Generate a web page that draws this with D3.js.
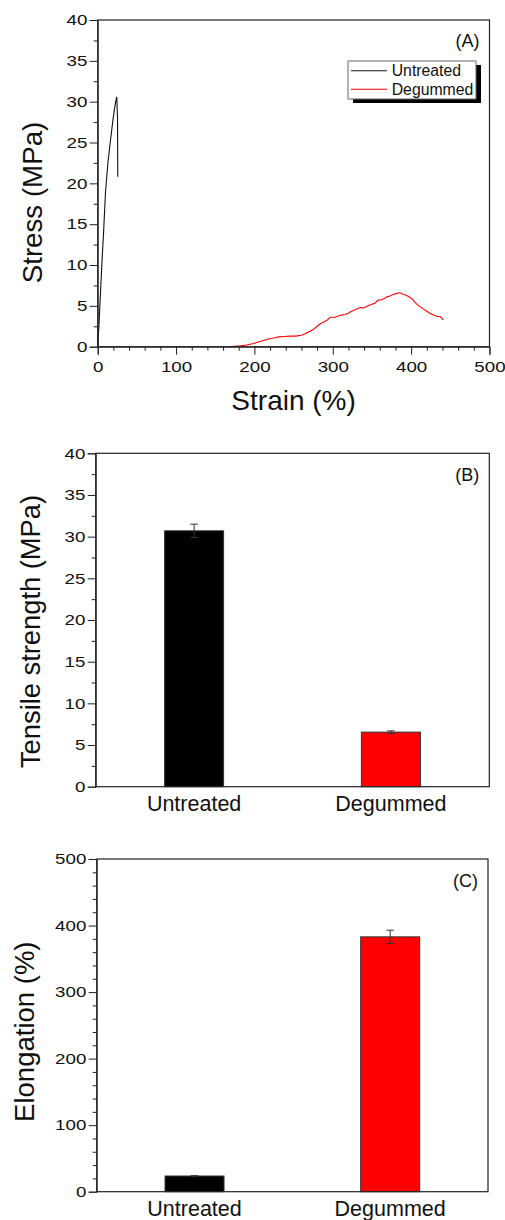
<!DOCTYPE html>
<html>
<head>
<meta charset="utf-8">
<script src="https://cdn.jsdelivr.net/npm/d3@7"></script>
<style>
  body { margin: 0; background: #fff; }
  svg { display: block; font-family: "Liberation Sans", Arial, sans-serif; }
  .domain { stroke: #222; }
  .tick line { stroke: #222; }
</style>
</head>
<body>
<div id="chart"></div>
<script>
// Panel A: stress-strain curves
var untreatedStrain = [0, 0.6, 1.5, 2.5, 4, 5.5, 7.5, 10, 13, 16, 19.5, 22.5, 24.3, 25.3, 25.6];
var untreatedStress = [0, 1.2, 2.3, 4.5, 7.5, 10.5, 14, 19, 22.5, 25, 27.8, 29.8, 30.6, 28, 20.8];

var degummedStrain = [167, 175, 182, 190, 199, 209, 215, 220, 226, 231,
  238, 246, 253, 260, 264, 267, 271, 275, 280, 284,
  288, 292, 297, 300, 303, 307, 312, 316, 320, 323,
  326, 330, 335, 338, 341, 345, 350, 354, 358, 362,
  366, 369, 373, 377, 381, 384, 387, 390, 394, 399,
  402, 405, 410, 416, 420, 424, 428, 431, 434, 437,
  439, 441];
var degummedStress = [0, 0.05, 0.1, 0.2, 0.4, 0.7, 0.85, 1.0, 1.1, 1.2,
  1.25, 1.3, 1.3, 1.4, 1.55, 1.7, 1.9, 2.1, 2.5, 2.8,
  3.0, 3.2, 3.6, 3.6, 3.6, 3.75, 3.9, 3.95, 4.1, 4.3,
  4.4, 4.6, 4.8, 4.75, 4.8, 5.0, 5.2, 5.35, 5.7, 5.75,
  5.9, 6.1, 6.2, 6.4, 6.5, 6.6, 6.55, 6.4, 6.3, 6.0,
  5.8, 5.4, 5.0, 4.6, 4.35, 4.1, 3.9, 3.8, 3.7, 3.7,
  3.5, 3.3];

// Panels B and C: bar charts
var samples = ["Untreated", "Degummed"];
var barColors = ["#000000", "#ff0000"];
var tensileMean = [30.7, 6.55];
var tensileErr = [0.8, 0.15];
var elongMean = [23.6, 383];
var elongErr = [0.5, 10];

var stressTicks = [0, 5, 10, 15, 20, 25, 30, 35, 40];
var strainTicks = [0, 100, 200, 300, 400, 500];
var elongTicks = [0, 100, 200, 300, 400, 500];

var svg = d3.select("#chart").append("svg")
    .attr("width", 505)
    .attr("height", 1220);

// draws y axis with major + minor ticks, stretched tick labels like the original
function yAxis(g, y, ticks, minor) {
    g.append("g")
        .call(d3.axisLeft(y).tickValues(minor).tickSize(4).tickFormat(""))
        .call(function(s) { s.select(".domain").remove(); });
    g.append("g")
        .call(d3.axisLeft(y).tickValues(ticks).tickSize(8).tickPadding(3).tickFormat(d3.format("d")))
        .call(function(s) {
            s.selectAll("text")
                .attr("font-size", 15)
                .attr("fill", "#111")
                .attr("x", -8.3)
                .attr("transform", "scale(1.25,1)");
        });
}

function frame(g, w, h) {
    g.append("rect")
        .attr("width", w).attr("height", h)
        .attr("fill", "none").attr("stroke", "#222").attr("stroke-width", 1.2);
}

function yTitle(x, cy, text, size) {
    svg.append("text")
        .attr("transform", "translate(" + x + "," + cy + ") rotate(-90)")
        .attr("text-anchor", "middle")
        .attr("font-size", size)
        .attr("fill", "#111")
        .text(text);
}

// ---------- Panel A ----------
var a = {left: 97.7, top: 20, right: 489.5, bottom: 346.7};
var aw = a.right - a.left, ah = a.bottom - a.top;
var ga = svg.append("g").attr("transform", "translate(" + a.left + "," + a.top + ")");

var xA = d3.scaleLinear().domain([0, 500]).range([0, aw]);
var yA = d3.scaleLinear().domain([0, 40]).range([ah, 0]);

var line = d3.line()
    .x(function(d) { return xA(d[0]); })
    .y(function(d) { return yA(d[1]); });

ga.append("path")
    .datum(d3.zip(untreatedStrain, untreatedStress))
    .attr("fill", "none").attr("stroke", "#111").attr("stroke-width", 1.1)
    .attr("d", line);
ga.append("path")
    .datum(d3.zip(degummedStrain, degummedStress))
    .attr("fill", "none").attr("stroke", "#ff0000").attr("stroke-width", 1.1)
    .attr("d", line);

frame(ga, aw, ah);
yAxis(ga, yA, stressTicks, d3.range(2.5, 40, 5));

var gxA = ga.append("g").attr("transform", "translate(0," + ah + ")");
gxA.append("g")
    .call(d3.axisBottom(xA).tickValues(d3.range(20, 500, 20).filter(function(v) { return v % 100; }))
        .tickSize(4).tickFormat(""))
    .call(function(s) { s.select(".domain").remove(); });
gxA.append("g")
    .call(d3.axisBottom(xA).tickValues(strainTicks).tickSize(8).tickFormat(d3.format("d")))
    .call(function(s) {
        s.selectAll("text")
            .attr("font-size", 15)
            .attr("fill", "#111")
            .attr("y", 15)
            .attr("transform", "scale(1.25,1)");
    });

svg.append("text")
    .attr("x", (a.left + a.right) / 2).attr("y", 410)
    .attr("text-anchor", "middle").attr("font-size", 28).attr("fill", "#111")
    .text("Strain (%)");
yTitle(41.7, 202.5, "Stress (MPa)", 27.7);

ga.append("text")
    .attr("x", aw - 10).attr("y", 47 - a.top)
    .attr("text-anchor", "end").attr("font-size", 18).attr("fill", "#111")
    .text("(A)");

// legend
var legend = ga.append("g").attr("transform", "translate(" + (348 - a.left) + "," + (61 - a.top) + ")");
legend.append("rect")
    .attr("x", 5).attr("y", 4).attr("width", 128).attr("height", 38)
    .attr("fill", "#000");
legend.append("rect")
    .attr("width", 128).attr("height", 38)
    .attr("fill", "#fff").attr("stroke", "#666").attr("stroke-width", 1);
var legendItems = [
    {name: "Untreated", color: "#111"},
    {name: "Degummed", color: "#ff0000"}
];
legendItems.forEach(function(d, i) {
    var yy = 9.7 + i * 18.6;
    legend.append("line")
        .attr("x1", 3).attr("x2", 39).attr("y1", yy).attr("y2", yy)
        .attr("stroke", d.color).attr("stroke-width", 1.1);
    legend.append("text")
        .attr("x", 43.7).attr("y", yy + 5.5)
        .attr("font-size", 15.8).attr("fill", "#111")
        .text(d.name);
});

// ---------- bar panels ----------
function barPanel(box, ymax, ticks, minor, means, errs, label, title, titleX, titleY, labelY) {
    var w = box.right - box.left, h = box.bottom - box.top;
    var g = svg.append("g").attr("transform", "translate(" + box.left + "," + box.top + ")");
    var x = d3.scalePoint().domain(samples).range([0, w]).padding(0.5);
    var y = d3.scaleLinear().domain([0, ymax]).range([h, 0]);
    var bw = 59;

    var bars = samples.map(function(s, i) {
        return {name: s, mean: means[i], err: errs[i], color: barColors[i]};
    });

    g.selectAll("rect.bar").data(bars).enter().append("rect")
        .attr("class", "bar")
        .attr("x", function(d) { return x(d.name) - bw / 2; })
        .attr("y", function(d) { return y(d.mean); })
        .attr("width", bw)
        .attr("height", function(d) { return h - y(d.mean); })
        .attr("fill", function(d) { return d.color; })
        .attr("stroke", "#333").attr("stroke-width", 1);

    var eb = g.selectAll("g.err").data(bars).enter().append("g").attr("class", "err")
        .attr("stroke", "#333").attr("stroke-width", 1);
    eb.append("line")
        .attr("x1", function(d) { return x(d.name); })
        .attr("x2", function(d) { return x(d.name); })
        .attr("y1", function(d) { return y(d.mean + d.err); })
        .attr("y2", function(d) { return y(d.mean - d.err); });
    eb.selectAll("line.cap")
        .data(function(d) { return [d.mean + d.err, d.mean - d.err].map(function(v) { return {v: v, name: d.name}; }); })
        .enter().append("line").attr("class", "cap")
        .attr("x1", function(d) { return x(d.name) - 3.8; })
        .attr("x2", function(d) { return x(d.name) + 3.8; })
        .attr("y1", function(d) { return y(d.v); })
        .attr("y2", function(d) { return y(d.v); });

    frame(g, w, h);
    yAxis(g, y, ticks, minor);

    g.selectAll("text.cat").data(samples).enter().append("text")
        .attr("class", "cat")
        .attr("x", function(d) { return x(d); })
        .attr("y", labelY - box.top)
        .attr("text-anchor", "middle").attr("font-size", 21.5).attr("fill", "#111")
        .text(function(d) { return d; });

    g.append("text")
        .attr("x", w - 10).attr("y", label.y - box.top)
        .attr("text-anchor", "end").attr("font-size", 18).attr("fill", "#111")
        .text(label.text);

    yTitle(titleX, titleY, title.text, title.size);
}

barPanel({left: 95.7, top: 453.3, right: 489.3, bottom: 786.7}, 40,
    stressTicks, d3.range(2.5, 40, 5), tensileMean, tensileErr,
    {text: "(B)", y: 481.5}, {text: "Tensile strength (MPa)", size: 27.3}, 39.5, 631.5, 811.5);

barPanel({left: 96.7, top: 859, right: 488, bottom: 1191.7}, 500,
    elongTicks, d3.range(20, 500, 20).filter(function(v) { return v % 100; }), elongMean, elongErr,
    {text: "(C)", y: 886.5}, {text: "Elongation (%)", size: 27.5}, 33.5, 1031.7, 1215.5);
</script>
</body>
</html>
